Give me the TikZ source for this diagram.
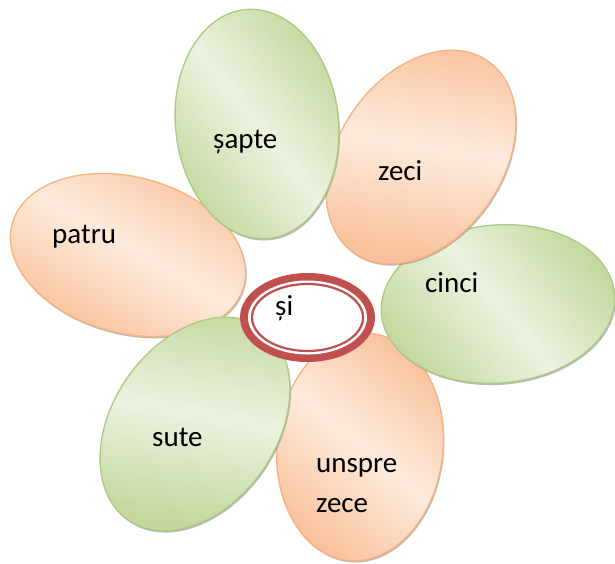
\documentclass[tikz,border=0pt]{standalone}
\usepackage{fontspec}
\setmainfont{Carlito}
\usetikzlibrary{shapes.geometric,shadows}
\definecolor{ordark}{RGB}{249,194,156}
\definecolor{orlight}{RGB}{253,235,221}
\definecolor{orline}{RGB}{247,178,125}
\definecolor{grdark}{RGB}{196,216,158}
\definecolor{grlight}{RGB}{236,242,224}
\definecolor{grline}{RGB}{172,202,128}
\definecolor{ringred}{RGB}{192,80,77}
\begin{document}
\begin{tikzpicture}[x=1pt,y=-1pt,
  petal/.style={ellipse, inner sep=0pt, line width=1.3pt,
    drop shadow={shadow xshift=1pt, shadow yshift=-1.8pt, fill=black!45, opacity=0.6}},
  orpetal/.style={petal, draw=orline, left color=ordark, right color=ordark, middle color=orlight},
  grpetal/.style={petal, draw=grline, left color=grdark, right color=grdark, middle color=grlight},
  word/.style={anchor=base west, inner sep=0pt, align=left, font=\fontsize{29}{40}\selectfont, text=black}]
\fill[white] (0,0) rectangle (615,563);
\useasboundingbox (0,0) rectangle (615,563);
% petals
\node[orpetal, minimum width=166pt, minimum height=228pt, rotate=-6, shading angle=-39] (p6) at (360,447) {};
\node[grpetal, minimum width=234pt, minimum height=158pt, rotate=5, shading angle=-50] (p5) at (498,304) {};
\node[orpetal, minimum width=164pt, minimum height=234pt, rotate=-35, shading angle=-10] (p2) at (421,157) {};
\node[orpetal, minimum width=240pt, minimum height=156pt, rotate=-15, shading angle=-30] (p1) at (128,255) {};
\node[grpetal, minimum width=164pt, minimum height=234pt, rotate=-35, shading angle=-10] (p4) at (195,424) {};
\node[grpetal, minimum width=163pt, minimum height=230pt, rotate=6, shading angle=-51] (p3) at (257,124) {};
% center ring
\node[ellipse, fill=ringred, inner sep=0pt, minimum width=135pt, minimum height=89pt] (ring) at (307.5,317.5) {};
\node[ellipse, fill=white, inner sep=0pt, minimum width=119pt, minimum height=74pt] (gap) at (ring.center) {};
\node[ellipse, draw=ringred, line width=2.2pt, fill=white, inner sep=0pt, minimum width=111pt, minimum height=67pt] (inner) at (ring.center) {};
% words
\node[word] (w3) at (213,148) {șapte};
\node[word] (w2) at (378,180) {zeci};
\node[word] (w1) at (52,243) {patru};
\node[word] (w5) at (425,292) {cinci};
\node[word] (w4) at (152,446) {sute};
\node[word] (w6) at (316,512) {unspre\\zece};
\node[word] (w0) at (275,315) {și};
\end{tikzpicture}
\end{document}
